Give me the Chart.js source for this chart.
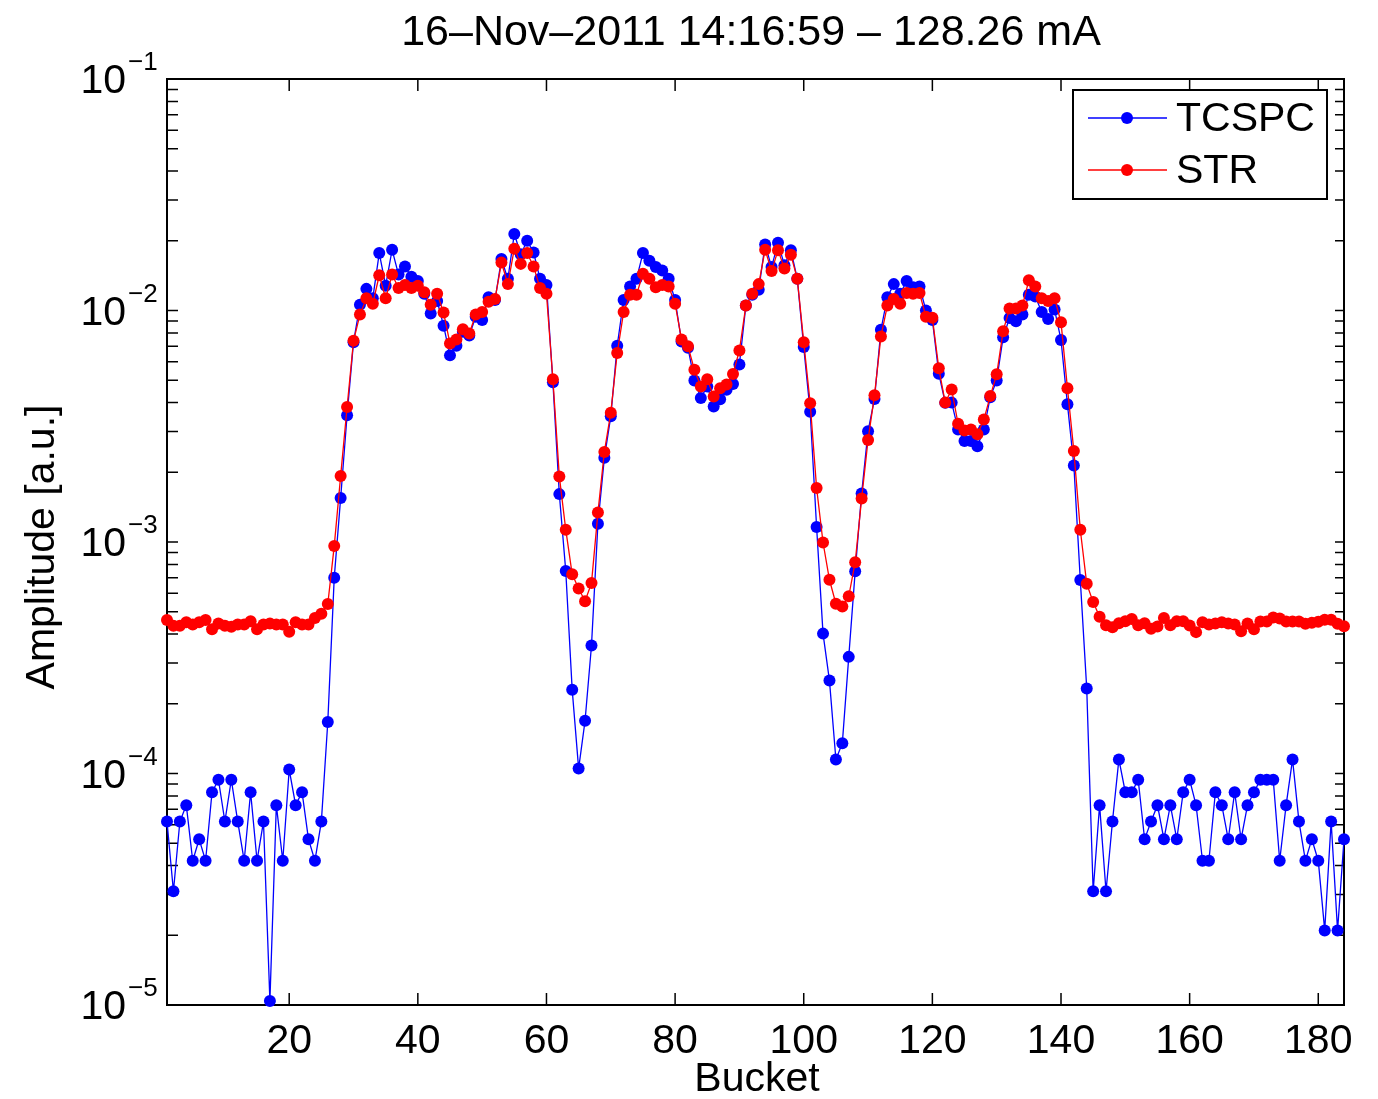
<!DOCTYPE html>
<html>
<head>
<meta charset="utf-8">
<script src="https://cdn.jsdelivr.net/npm/chart.js@4.4.1/dist/chart.umd.min.js"></script>
<style>
    html, body { margin: 0; padding: 0; background: #fff; }
    #wrap { width: 1378px; height: 1099px; position: relative; }
</style>
</head>
<body>
<div id="wrap"><canvas id="bucketChart"></canvas></div>
<script>
// 填充模式量測資料 (每個 bucket 一點)
const titleText = '16\u2013Nov\u20132011 14:16:59 \u2013 128.26 mA';
const xLabel = 'Bucket';
const yLabel = 'Amplitude [a.u.]';
const seriesNames = ['TCSPC', 'STR'];

const xTicks = [20, 40, 60, 80, 100, 120, 140, 160, 180];
const yDecades = [1e-5, 1e-4, 1e-3, 1e-2, 1e-1];
const yExponents = ['\u22125', '\u22124', '\u22123', '\u22122', '\u22121'];

const tcspc = [
    6.2e-5, 3.1e-5, 6.2e-5, 7.3e-5, 4.2e-5, 5.2e-5, 4.2e-5, 8.3e-5, 9.4e-5, 6.2e-5,
    9.4e-5, 6.2e-5, 4.2e-5, 8.3e-5, 4.2e-5, 6.2e-5, 1.04e-5, 7.3e-5, 4.2e-5, 1.04e-4,
    7.3e-5, 8.3e-5, 5.2e-5, 4.2e-5, 6.2e-5, 1.67e-4,
    7.0e-4, 1.55e-3, 3.53e-3, 7.3e-3, 1.06e-2, 1.24e-2, 1.13e-2, 1.77e-2, 1.28e-2, 1.83e-2,
    1.43e-2, 1.55e-2, 1.40e-2, 1.34e-2,
    1.18e-2, 9.7e-3, 1.10e-2, 8.6e-3, 6.4e-3, 7.05e-3, 8.1e-3, 7.8e-3, 9.4e-3, 9.1e-3,
    1.14e-2, 1.11e-2, 1.67e-2, 1.37e-2, 2.14e-2, 1.75e-2, 2.0e-2, 1.78e-2, 1.37e-2, 1.29e-2,
    4.9e-3, 1.61e-3, 7.5e-4, 2.3e-4, 1.05e-4, 1.69e-4, 3.57e-4, 1.2e-3, 2.31e-3, 3.49e-3,
    7.05e-3, 1.11e-2, 1.27e-2, 1.37e-2, 1.77e-2, 1.64e-2, 1.54e-2, 1.49e-2, 1.37e-2, 1.11e-2,
    7.35e-3, 6.9e-3, 4.98e-3, 4.19e-3, 4.7e-3, 3.85e-3, 4.14e-3, 4.55e-3, 4.81e-3, 5.85e-3,
    1.05e-2, 1.17e-2, 1.23e-2, 1.93e-2, 1.54e-2, 1.96e-2, 1.57e-2, 1.82e-2, 1.37e-2, 6.95e-3,
    3.65e-3, 1.16e-3, 4.02e-4, 2.52e-4, 1.15e-4, 1.35e-4, 3.19e-4, 7.48e-4, 1.62e-3, 3.01e-3,
    4.15e-3, 8.25e-3, 1.14e-2, 1.30e-2, 1.18e-2, 1.34e-2, 1.26e-2, 1.27e-2, 1.0e-2, 9.1e-3,
    5.33e-3, 3.99e-3, 4.0e-3, 3.06e-3, 2.73e-3, 2.73e-3, 2.59e-3, 3.06e-3, 4.22e-3, 4.99e-3,
    7.67e-3, 9.28e-3, 8.98e-3, 9.6e-3, 1.17e-2, 1.15e-2, 9.86e-3, 9.2e-3, 1.01e-2, 7.46e-3,
    3.94e-3, 2.14e-3, 6.86e-4, 2.33e-4, 3.1e-5, 7.3e-5, 3.1e-5, 6.2e-5, 1.15e-4, 8.3e-5,
    8.3e-5, 9.4e-5, 5.2e-5, 6.2e-5, 7.3e-5, 5.2e-5, 7.3e-5, 5.2e-5, 8.3e-5, 9.4e-5,
    7.3e-5, 4.2e-5, 4.2e-5, 8.3e-5, 7.3e-5, 5.2e-5, 8.3e-5, 5.2e-5, 7.3e-5, 8.3e-5,
    9.4e-5, 9.4e-5, 9.4e-5, 4.2e-5, 7.3e-5, 1.15e-4, 6.2e-5, 4.2e-5, 5.2e-5, 4.2e-5,
    2.1e-5, 6.2e-5, 2.1e-5, 5.2e-5
];

const str = [
    4.6e-4, 4.35e-4, 4.35e-4, 4.5e-4, 4.4e-4, 4.5e-4, 4.6e-4, 4.2e-4, 4.45e-4, 4.35e-4,
    4.3e-4, 4.4e-4, 4.4e-4, 4.55e-4, 4.2e-4, 4.4e-4, 4.45e-4, 4.4e-4, 4.4e-4, 4.1e-4,
    4.5e-4, 4.4e-4, 4.4e-4, 4.7e-4, 4.9e-4, 5.4e-4,
    9.6e-4, 1.93e-3, 3.83e-3, 7.4e-3, 9.6e-3, 1.13e-2, 1.07e-2, 1.42e-2, 1.13e-2, 1.43e-2,
    1.25e-2, 1.29e-2, 1.25e-2, 1.28e-2,
    1.20e-2, 1.06e-2, 1.18e-2, 9.8e-3, 7.2e-3, 7.5e-3, 8.3e-3, 7.95e-3, 9.6e-3, 9.85e-3,
    1.09e-2, 1.12e-2, 1.61e-2, 1.30e-2, 1.85e-2, 1.59e-2, 1.77e-2, 1.55e-2, 1.25e-2, 1.18e-2,
    5.05e-3, 1.92e-3, 1.13e-3, 7.25e-4, 6.3e-4, 5.55e-4, 6.65e-4, 1.34e-3, 2.45e-3, 3.62e-3,
    6.55e-3, 9.85e-3, 1.17e-2, 1.17e-2, 1.44e-2, 1.37e-2, 1.26e-2, 1.29e-2, 1.27e-2, 1.07e-2,
    7.5e-3, 7.0e-3, 5.55e-3, 4.7e-3, 5.05e-3, 4.25e-3, 4.62e-3, 4.79e-3, 5.32e-3, 6.72e-3,
    1.05e-2, 1.18e-2, 1.30e-2, 1.83e-2, 1.48e-2, 1.82e-2, 1.52e-2, 1.74e-2, 1.37e-2, 7.3e-3,
    3.98e-3, 1.71e-3, 9.95e-4, 6.87e-4, 5.41e-4, 5.27e-4, 5.83e-4, 8.18e-4, 1.54e-3, 2.76e-3,
    4.3e-3, 7.72e-3, 1.05e-2, 1.12e-2, 1.07e-2, 1.19e-2, 1.18e-2, 1.19e-2, 9.4e-3, 9.3e-3,
    5.63e-3, 4.0e-3, 4.56e-3, 3.24e-3, 3.03e-3, 3.06e-3, 2.92e-3, 3.38e-3, 4.27e-3, 5.3e-3,
    8.14e-3, 1.02e-2, 1.02e-2, 1.05e-2, 1.35e-2, 1.27e-2, 1.13e-2, 1.10e-2, 1.13e-2, 8.9e-3,
    4.62e-3, 2.47e-3, 1.13e-3, 6.6e-4, 5.5e-4, 4.75e-4, 4.37e-4, 4.28e-4, 4.46e-4, 4.55e-4,
    4.65e-4, 4.37e-4, 4.46e-4, 4.22e-4, 4.32e-4, 4.7e-4, 4.37e-4, 4.55e-4, 4.55e-4, 4.36e-4,
    4.08e-4, 4.5e-4, 4.4e-4, 4.45e-4, 4.5e-4, 4.45e-4, 4.4e-4, 4.12e-4, 4.45e-4, 4.2e-4,
    4.53e-4, 4.53e-4, 4.72e-4, 4.67e-4, 4.53e-4, 4.53e-4, 4.53e-4, 4.43e-4, 4.48e-4, 4.52e-4,
    4.62e-4, 4.62e-4, 4.43e-4, 4.33e-4
];

const buckets = tcspc.map((_, i) => i + 1);
const colors = ['#0000ff', '#ff0000'];
const FONT = '"Liberation Sans", Arial, Helvetica, sans-serif';

// MATLAB 風格外框、刻度、標籤與圖例
const matlabAxes = {
    id: 'matlabAxes',
    beforeDatasetsDraw(chart) {
        const { ctx, chartArea: a, scales: { x, y } } = chart;
        ctx.save();
        ctx.strokeStyle = '#000';
        ctx.lineWidth = 2;
        ctx.strokeRect(a.left, a.top, a.right - a.left, a.bottom - a.top);

        ctx.lineWidth = 1.5;
        ctx.beginPath();
        xTicks.forEach(v => {
            const px = x.getPixelForValue(v);
            ctx.moveTo(px, a.bottom); ctx.lineTo(px, a.bottom - 12);
            ctx.moveTo(px, a.top); ctx.lineTo(px, a.top + 12);
        });
        yDecades.forEach(d => {
            for (let m = 1; m <= 9; m++) {
                const v = d * m;
                if (v > y.max * 1.0001) break;
                const py = y.getPixelForValue(v);
                ctx.moveTo(a.left, py); ctx.lineTo(a.left + 11, py);
                ctx.moveTo(a.right, py); ctx.lineTo(a.right - 9, py);
            }
        });
        ctx.stroke();
        ctx.restore();
    },
    afterDraw(chart) {
        const { ctx, chartArea: a, scales: { x, y } } = chart;
        ctx.save();
        ctx.fillStyle = '#000';

        // x 刻度標籤
        ctx.font = `41px ${FONT}`;
        ctx.textAlign = 'center';
        ctx.textBaseline = 'middle';
        xTicks.forEach(v => ctx.fillText(String(v), x.getPixelForValue(v), a.bottom + 37));

        // y 刻度標籤 10^n
        yDecades.forEach((d, i) => {
            const py = y.getPixelForValue(d);
            ctx.font = `41px ${FONT}`;
            ctx.textAlign = 'right';
            ctx.fillText('10', a.left - 41, py + 3);
            ctx.font = `26px ${FONT}`;
            ctx.textAlign = 'left';
            ctx.fillText(yExponents[i], a.left - 39, py - 16);
        });

        // 標題與軸標題
        ctx.font = `43px ${FONT}`;
        ctx.textAlign = 'center';
        ctx.fillText(titleText, 751, 33);
        ctx.font = `41px ${FONT}`;
        ctx.fillText(xLabel, 757, 1080);
        ctx.save();
        ctx.translate(43, 547);
        ctx.rotate(-Math.PI / 2);
        ctx.fillText(yLabel, 0, 0);
        ctx.restore();

        // 圖例
        ctx.fillStyle = '#fff';
        ctx.fillRect(1073, 90, 254, 109);
        ctx.strokeStyle = '#000';
        ctx.lineWidth = 2;
        ctx.strokeRect(1073, 90, 254, 109);
        seriesNames.forEach((name, i) => {
            const ly = 118 + i * 52;
            ctx.strokeStyle = colors[i];
            ctx.lineWidth = 1.3;
            ctx.beginPath();
            ctx.moveTo(1088, ly); ctx.lineTo(1167, ly);
            ctx.stroke();
            ctx.fillStyle = colors[i];
            ctx.beginPath();
            ctx.arc(1127, ly, 6, 0, Math.PI * 2);
            ctx.fill();
            ctx.fillStyle = '#000';
            ctx.font = `41px ${FONT}`;
            ctx.textAlign = 'left';
            ctx.fillText(name, 1176, ly + 2);
        });
        ctx.restore();
    }
};

function makeSeries(values, i) {
    return {
        label: seriesNames[i],
        data: values.map((v, k) => ({ x: buckets[k], y: v })),
        borderColor: colors[i],
        backgroundColor: colors[i],
        borderWidth: 1.3,
        pointRadius: 6,
        pointBorderWidth: 0,
        pointBackgroundColor: colors[i],
        tension: 0,
        clip: false,
        order: i === 0 ? 1 : 0
    };
}

new Chart(document.getElementById('bucketChart'), {
    type: 'line',
    data: { datasets: [makeSeries(tcspc, 0), makeSeries(str, 1)] },
    options: {
        responsive: true,
        maintainAspectRatio: false,
        animation: false,
        devicePixelRatio: 1,
        layout: { padding: { left: 167, top: 79, right: 34, bottom: 94 } },
        plugins: { legend: { display: false }, tooltip: { enabled: false }, title: { display: false } },
        scales: {
            x: { type: 'linear', min: 1, max: 184, display: false },
            y: { type: 'logarithmic', min: 1e-5, max: 1e-1, display: false }
        }
    },
    plugins: [matlabAxes]
});
</script>
</body>
</html>
